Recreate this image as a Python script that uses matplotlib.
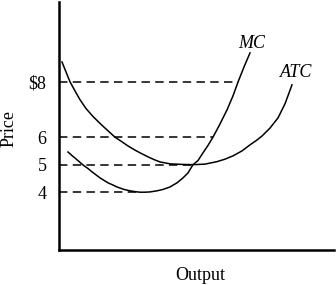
import matplotlib
matplotlib.use('Agg')
import matplotlib.pyplot as plt

# Curvas de custo (quantidade, preco)
q_mc = [9, 13, 17, 24, 29, 33, 37, 41, 45, 49, 54, 58, 65, 71, 76, 81, 86, 91, 98, 104,
        111, 118, 124, 129, 134, 139, 144, 149, 154, 161, 168, 174, 179, 185, 191]
p_mc = [5.46, 5.33, 5.21, 4.99, 4.86, 4.74, 4.63, 4.52, 4.43, 4.34, 4.26, 4.19, 4.1, 4.05,
        4.02, 4.0, 4.0, 4.01, 4.05, 4.1, 4.19, 4.34, 4.52, 4.7, 5.0, 5.15, 5.43, 5.7,
        6.0, 6.48, 6.99, 7.5, 8.0, 8.55, 9.06]

q_atc = [3, 7, 11, 16, 21, 27, 34, 41, 46, 56, 63, 69, 75, 81, 86, 91, 96, 101, 111, 123,
         134, 146, 158, 166, 174, 183, 191, 197, 203, 211, 219, 226, 233]
p_atc = [8.73, 8.37, 8.01, 7.68, 7.36, 7.04, 6.75, 6.5, 6.33, 6.0, 5.83, 5.68, 5.55, 5.43,
         5.34, 5.25, 5.17, 5.1, 5.03, 5.01, 5.0, 5.02, 5.11, 5.2, 5.32, 5.5, 5.72, 5.87,
         6.04, 6.33, 6.7, 7.21, 7.9]

# Linhas tracejadas: nivel de preco e ate onde vai
precos = [8, 6, 5, 4]
fim_q = [179, 154, 134, 82]
rotulos = ['$8', '6', '5', '4']

plt.rcParams['font.family'] = ['Liberation Serif', 'DejaVu Serif']

fig = plt.figure(figsize=(3.36, 2.85), dpi=100)
ax = fig.add_axes([59 / 336, 35 / 285, 275 / 336, 248 / 285])

ax.plot(q_mc, p_mc, color='black', lw=1.1, solid_joinstyle='round')
ax.plot(q_atc, p_atc, color='black', lw=1.1, solid_joinstyle='round')

for p, q in zip(precos, fim_q):
    ax.plot([0, q], [p, p], color='black', lw=1.1, ls=(0, (5.5, 3.5)))

ax.set_xlim(0, 275)
ax.set_ylim(1.90, 10.91)
ax.set_xticks([])
ax.set_yticks(precos)
ax.set_yticklabels(rotulos, fontsize=13)
ax.tick_params(axis='y', length=0, pad=9)

for s in ['top', 'right']:
    ax.spines[s].set_visible(False)
for s in ['left', 'bottom']:
    ax.spines[s].set_linewidth(1.8)

ax.text(193, 9.40, 'MC', fontsize=13, style='italic', ha='center', va='center')
ax.text(237, 8.35, 'ATC', fontsize=13, style='italic', ha='center', va='center')

fig.text(200 / 336, 1 - 280 / 285, 'Output', fontsize=13, ha='center', va='baseline')
fig.text(9.5 / 336, 1 - 128 / 285, 'Price', fontsize=13, rotation=90, ha='center', va='center')

fig.savefig('out.png', dpi=100)
